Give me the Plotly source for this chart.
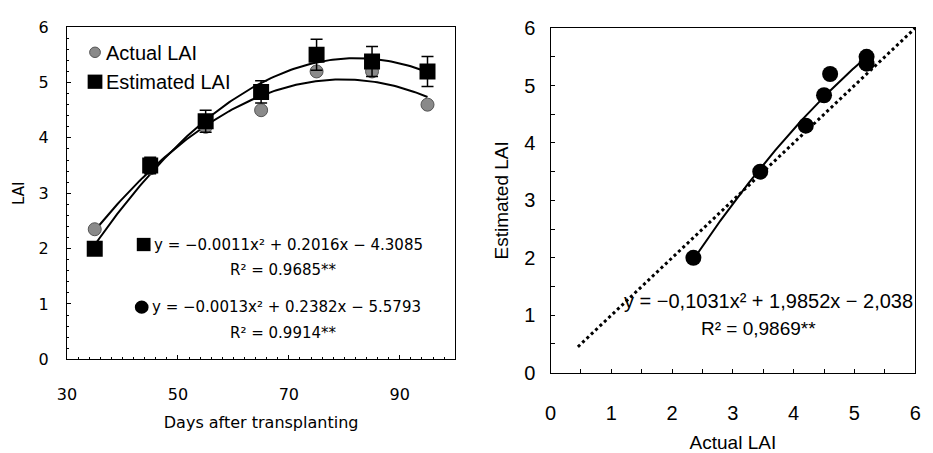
import numpy as np
import plotly.graph_objects as go

# ---- data ----
days = [35, 45, 55, 65, 75, 85, 95]
actual_lai = [2.35, 3.45, 4.2, 4.5, 5.2, 5.2, 4.6]
estimated_lai = [2.0, 3.5, 4.3, 4.83, 5.5, 5.38, 5.2]
estimated_err = [0.0, 0.15, 0.2, 0.2, 0.28, 0.27, 0.27]

legend_labels = ["Actual LAI", "Estimated LAI"]
eq_est = "y = −0.0011x² + 0.2016x − 4.3085"
r2_est = "R² = 0.9685**"
eq_act = "y = −0.0013x² + 0.2382x − 5.5793"
r2_act = "R² = 0.9914**"
eq_cmp = "y = −0,1031x² + 1,9852x − 2,038"
r2_cmp = "R² = 0,9869**"
one_to_one = [0.45, 6.0]

FONT = "Liberation Sans"
FONT_L = "DejaVu Sans"
W, H = 933, 453

fig = go.Figure()

# quadratic trend lines (least-squares, as in the original figure)
xd = np.linspace(min(days), max(days), 120)
pa = np.polyfit(days, actual_lai, 2)
pe = np.polyfit(days, estimated_lai, 2)
fig.add_trace(go.Scatter(x=xd, y=np.polyval(pa, xd), mode="lines",
                         line=dict(color="black", width=2), showlegend=False,
                         xaxis="x", yaxis="y"))
fig.add_trace(go.Scatter(x=xd, y=np.polyval(pe, xd), mode="lines",
                         line=dict(color="black", width=2), showlegend=False,
                         xaxis="x", yaxis="y"))

fig.add_trace(go.Scatter(x=days, y=actual_lai, mode="markers", name=legend_labels[0],
                         marker=dict(symbol="circle", size=13, color="#8a8a8a",
                                     line=dict(color="#555", width=1)),
                         showlegend=False, xaxis="x", yaxis="y"))
fig.add_trace(go.Scatter(x=days, y=estimated_lai, mode="markers", name=legend_labels[1],
                         marker=dict(symbol="square", size=16, color="black"),
                         error_y=dict(type="data", array=estimated_err, color="black",
                                      thickness=1.5, width=6),
                         showlegend=False, xaxis="x", yaxis="y"))

# right panel
fig.add_trace(go.Scatter(x=one_to_one, y=one_to_one, mode="lines",
                         line=dict(color="black", width=3, dash="dot"),
                         showlegend=False, xaxis="x2", yaxis="y2"))
pc = np.polyfit(actual_lai, estimated_lai, 2)
xc = np.linspace(min(actual_lai), max(actual_lai), 100)
fig.add_trace(go.Scatter(x=xc, y=np.polyval(pc, xc), mode="lines",
                         line=dict(color="black", width=2), showlegend=False,
                         xaxis="x2", yaxis="y2"))
fig.add_trace(go.Scatter(x=actual_lai, y=estimated_lai, mode="markers",
                         marker=dict(symbol="circle", size=16, color="black"),
                         showlegend=False, xaxis="x2", yaxis="y2"))

axis_common = dict(showgrid=False, zeroline=False, showline=True, linecolor="black",
                   linewidth=1.2, mirror=True, ticks="inside", ticklen=4,
                   tickcolor="black", color="black")

fig.update_layout(
    width=W, height=H,
    margin=dict(l=0, r=0, t=0, b=0),
    paper_bgcolor="white", plot_bgcolor="white",
    font=dict(family=FONT, color="black"),
    showlegend=False,
    xaxis=dict(domain=[58 / W, 453 / W], range=[30, 100], tickvals=[30, 50, 70, 90],
               minor=dict(dtick=2, ticks="inside", ticklen=2, tickcolor="black"),
               tickfont=dict(size=16, family=FONT_L), ticklabelstandoff=20,
               title=dict(text="Days after transplanting", font=dict(size=16, family=FONT_L),
                          standoff=14),
               anchor="y", **axis_common),
    yaxis=dict(domain=[1 - 367 / H, 1 - 17 / H], range=[0, 6], dtick=1,
               minor=dict(dtick=0.2, ticks="inside", ticklen=2, tickcolor="black"),
               tickfont=dict(size=16, family=FONT_L), ticklabelstandoff=14,
               title=dict(text="LAI", font=dict(size=15, family=FONT_L), standoff=10),
               anchor="x", **axis_common),
    xaxis2=dict(domain=[550 / W, 921 / W], range=[0, 6], dtick=1,
                minor=dict(dtick=0.5, ticks="inside", ticklen=4, tickcolor="black"),
                tickfont=dict(size=20), ticklabelstandoff=22,
                title=dict(text="Actual LAI", font=dict(size=19), standoff=16),
                anchor="y2", **axis_common),
    yaxis2=dict(domain=[1 - 381 / H, 1 - 18 / H], range=[0, 6], dtick=1,
                minor=dict(dtick=0.5, ticks="inside", ticklen=4, tickcolor="black"),
                tickfont=dict(size=20), ticklabelstandoff=10,
                title=dict(text="Estimated LAI", font=dict(size=19), standoff=10),
                anchor="x2", **axis_common),
)

# legend / equation symbols drawn as shapes (paper coords, pixel-derived)
def px(x): return x / W
def py(y): return 1 - y / H

fig.add_shape(type="circle", xref="paper", yref="paper",
              x0=px(81), x1=px(92), y0=py(49), y1=py(38),
              fillcolor="#8a8a8a", line=dict(color="#555", width=1))
fig.add_shape(type="rect", xref="paper", yref="paper",
              x0=px(79), x1=px(94), y0=py(82), y1=py(67),
              fillcolor="black", line=dict(color="black", width=0))
fig.add_shape(type="rect", xref="paper", yref="paper",
              x0=px(129), x1=px(143), y0=py(253), y1=py(239),
              fillcolor="black", line=dict(color="black", width=0))
fig.add_shape(type="circle", xref="paper", yref="paper",
              x0=px(127), x1=px(141), y0=py(319), y1=py(305),
              fillcolor="black", line=dict(color="black", width=0))

ann = [
    dict(x=px(96), y=py(44), xanchor="left", font_size=20, text=legend_labels[0]),
    dict(x=px(96), y=py(75), xanchor="left", font_size=20, text=legend_labels[1]),
    dict(x=px(144), y=py(246), text=eq_est, xanchor="left", font_size=15, family=FONT_L),
    dict(x=px(278), y=py(273), text=r2_est, xanchor="center", font_size=15, family=FONT_L),
    dict(x=px(142), y=py(312), text=eq_act, xanchor="left", font_size=15, family=FONT_L),
    dict(x=px(278), y=py(339), text=r2_act, xanchor="center", font_size=15, family=FONT_L),
    dict(x=px(772), y=py(305), text=eq_cmp, xanchor="center", font_size=20),
    dict(x=px(762), y=py(334), text=r2_cmp, xanchor="center", font_size=19),
]
for a in ann:
    fam = a.pop("family", FONT)
    fig.add_annotation(xref="paper", yref="paper", showarrow=False,
                       yanchor="middle",
                       font=dict(family=fam, color="black", size=a.pop("font_size")), **a)

fig.write_html("out.html", config={"displayModeBar": False},
               post_script="document.body.style.margin='0';document.body.style.overflow='hidden';")
